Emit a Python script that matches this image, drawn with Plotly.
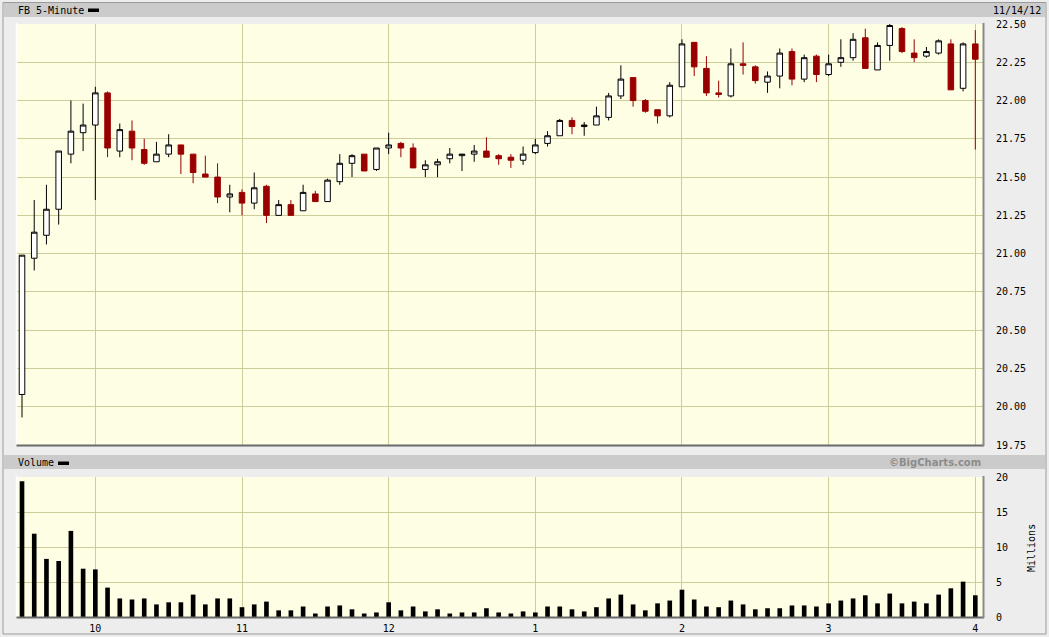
import plotly.graph_objects as go

# ---------------- data (FB 5-minute bars, 11/14/12) ----------------
bar_times = ["9:30","9:35","9:40","9:45","9:50","9:55",
             "10:00","10:05","10:10","10:15","10:20","10:25","10:30","10:35","10:40","10:45","10:50","10:55",
             "11:00","11:05","11:10","11:15","11:20","11:25","11:30","11:35","11:40","11:45","11:50","11:55",
             "12:00","12:05","12:10","12:15","12:20","12:25","12:30","12:35","12:40","12:45","12:50","12:55",
             "1:00","1:05","1:10","1:15","1:20","1:25","1:30","1:35","1:40","1:45","1:50","1:55",
             "2:00","2:05","2:10","2:15","2:20","2:25","2:30","2:35","2:40","2:45","2:50","2:55",
             "3:00","3:05","3:10","3:15","3:20","3:25","3:30","3:35","3:40","3:45","3:50","3:55",
             "4:00"]

open_ = [20.08,20.97,21.12,21.29,21.65,21.79,21.84,22.05,21.67,21.80,21.68,21.60,21.65,21.71,21.65,21.52,21.50,21.37,
         21.40,21.33,21.44,21.25,21.32,21.28,21.39,21.34,21.47,21.59,21.65,21.55,
         21.69,21.72,21.69,21.55,21.58,21.62,21.64,21.65,21.67,21.64,21.63,21.61,
         21.66,21.72,21.77,21.87,21.83,21.84,21.89,22.03,22.15,22.00,21.94,21.90,
         22.09,22.38,22.21,22.05,22.03,22.24,22.22,22.12,22.16,22.32,22.14,22.29,
         22.17,22.25,22.28,22.41,22.20,22.36,22.47,22.31,22.29,22.31,22.37,22.08,22.37]
high = [20.99,21.35,21.45,21.67,22.00,21.98,22.09,22.06,21.85,21.87,21.75,21.73,21.78,21.71,21.65,21.64,21.59,21.45,
        21.42,21.53,21.45,21.35,21.35,21.45,21.41,21.49,21.65,21.65,21.65,21.69,
        21.79,21.73,21.72,21.61,21.62,21.69,21.65,21.71,21.76,21.65,21.65,21.70,
        21.75,21.80,21.88,21.89,21.86,21.96,22.05,22.23,22.15,22.01,21.94,22.12,
        22.40,22.38,22.29,22.13,22.34,22.38,22.23,22.19,22.34,22.34,22.30,22.30,
        22.30,22.40,22.44,22.47,22.38,22.50,22.48,22.40,22.35,22.40,22.40,22.38,22.46]
low = [19.93,20.89,21.06,21.19,21.59,21.67,21.35,21.63,21.63,21.61,21.58,21.60,21.63,21.52,21.46,21.50,21.33,21.27,
       21.25,21.29,21.20,21.25,21.25,21.28,21.34,21.34,21.45,21.50,21.54,21.54,
       21.65,21.63,21.56,21.50,21.50,21.59,21.54,21.60,21.63,21.58,21.56,21.58,
       21.65,21.70,21.77,21.78,21.77,21.84,21.87,22.01,21.96,21.92,21.85,21.89,
       22.09,22.16,22.03,22.02,22.02,22.17,22.11,22.05,22.08,22.10,22.12,22.12,
       22.16,22.22,22.26,22.21,22.20,22.26,22.31,22.25,22.28,22.30,22.07,22.06,21.68]
close = [20.99,21.14,21.29,21.67,21.80,21.84,22.05,21.69,21.81,21.69,21.59,21.65,21.71,21.65,21.53,21.50,21.37,21.39,
         21.33,21.43,21.25,21.32,21.25,21.40,21.34,21.48,21.59,21.64,21.54,21.69,
         21.71,21.69,21.56,21.58,21.60,21.65,21.65,21.67,21.63,21.62,21.61,21.65,
         21.71,21.77,21.87,21.83,21.84,21.90,22.03,22.14,22.00,21.93,21.90,22.10,
         22.37,22.22,22.05,22.04,22.24,22.23,22.13,22.16,22.31,22.14,22.28,22.17,
         22.24,22.28,22.40,22.21,22.36,22.49,22.32,22.28,22.32,22.39,22.07,22.37,22.27]

volume_m = [19.4,11.9,8.3,8.0,12.3,6.9,6.8,4.2,2.65,2.5,2.65,1.8,2.1,2.1,3.2,1.8,2.65,2.65,
            1.4,1.8,2.2,0.95,0.95,1.5,0.5,1.5,1.65,1.1,0.5,0.65,
            2.1,0.95,1.5,0.8,1.1,0.5,0.65,0.65,1.25,0.65,0.5,0.8,
            0.65,1.5,1.5,1.1,0.8,1.4,2.65,3.2,1.8,0.95,1.95,2.35,
            3.9,2.5,1.5,1.4,2.35,1.8,1.1,1.25,1.25,1.65,1.65,1.5,
            1.95,2.35,2.65,3.1,1.95,3.35,1.95,2.2,1.95,3.2,4.1,5.05,3.1]

hour_labels = ["10", "11", "12", "1", "2", "3", "4"]
price_ticks = [19.75, 20.00, 20.25, 20.50, 20.75, 21.00, 21.25, 21.50, 21.75, 22.00, 22.25, 22.50]
volume_ticks = [0, 5, 10, 15, 20]

# ---------------- layout helpers ----------------
W, H = 1049, 637
PL, PR, PT, PB = 17, 983, 24, 617
def px_x(p):
    return (p - PL) / (PR - PL)
def px_y(p):
    return (PB - p) / (PB - PT)

xs = list(range(len(bar_times)))
hour_pos = [i for i, t in enumerate(bar_times) if t.endswith(":00")]

BG = "#ededed"
PLOTBG = "#fefee4"
GRID = "#cdcd9a"
RED = "#990000"
MONO = "DejaVu Sans Mono"

fig = go.Figure()
fig.add_trace(go.Candlestick(
    x=xs, open=open_, high=high, low=low, close=close,
    xaxis="x", yaxis="y",
    increasing=dict(line=dict(color="black", width=1), fillcolor="white"),
    decreasing=dict(line=dict(color=RED, width=1), fillcolor=RED),
    whiskerwidth=0, showlegend=False, hoverinfo="skip",
))
fig.add_trace(go.Bar(
    x=xs, y=volume_m, xaxis="x2", yaxis="y2",
    marker=dict(color="black", line=dict(width=0)),
    width=0.38, showlegend=False, hoverinfo="skip",
))

xr = [-0.41, len(bar_times) - 1 + 0.63]
common_x = dict(range=xr, tickmode="array", tickvals=hour_pos, showgrid=True,
                gridcolor=GRID, gridwidth=1, zeroline=False, showline=False,
                fixedrange=True, automargin=False)

shapes = []
# outer frame
shapes.append(dict(type="rect", xref="paper", yref="paper",
                   x0=px_x(3), x1=px_x(1046), y0=px_y(634), y1=px_y(2.5),
                   line=dict(color="#9a9a9a", width=1), fillcolor="rgba(0,0,0,0)", layer="below"))
# header bars
for (y0, y1) in [(3, 17), (455, 469)]:
    shapes.append(dict(type="rect", xref="paper", yref="paper",
                       x0=px_x(4), x1=px_x(1045), y0=px_y(y1), y1=px_y(y0),
                       line=dict(width=0), fillcolor="#cbcbcb", layer="below"))
# legend dashes
shapes.append(dict(type="rect", xref="paper", yref="paper",
                   x0=px_x(88), x1=px_x(99), y0=px_y(12), y1=px_y(8.5),
                   line=dict(width=0), fillcolor="black"))
shapes.append(dict(type="rect", xref="paper", yref="paper",
                   x0=px_x(58), x1=px_x(69), y0=px_y(465), y1=px_y(461.5),
                   line=dict(width=0), fillcolor="black"))
# panel bevel edges
for (top, bot) in [(24, 445), (477, 617)]:
    shapes.append(dict(type="line", xref="paper", yref="paper",
                       x0=px_x(16.5), x1=px_x(16.5), y0=px_y(bot), y1=px_y(top - 1),
                       line=dict(color="white", width=1.5)))
    shapes.append(dict(type="line", xref="paper", yref="paper",
                       x0=px_x(16.5), x1=px_x(984), y0=px_y(bot + 0.5), y1=px_y(bot + 0.5),
                       line=dict(color="#6a6a6a", width=2)))
    shapes.append(dict(type="line", xref="paper", yref="paper",
                       x0=px_x(983.5), x1=px_x(983.5), y0=px_y(bot + 1), y1=px_y(top - 1),
                       line=dict(color="#8a8a8a", width=2)))

annotations = [
    dict(text="FB 5-Minute", xref="paper", yref="paper", x=px_x(16), y=px_y(10.5),
         xanchor="left", yanchor="middle", showarrow=False,
         font=dict(family=MONO, size=10, color="black")),
    dict(text="11/14/12", xref="paper", yref="paper", x=px_x(1043), y=px_y(10.5),
         xanchor="right", yanchor="middle", showarrow=False,
         font=dict(family=MONO, size=10, color="black")),
    dict(text="Volume", xref="paper", yref="paper", x=px_x(16), y=px_y(462.5),
         xanchor="left", yanchor="middle", showarrow=False,
         font=dict(family=MONO, size=10, color="black")),
    dict(text="<b>©BigCharts.com</b>", xref="paper", yref="paper", x=px_x(983), y=px_y(462.5),
         xanchor="right", yanchor="middle", showarrow=False,
         font=dict(family="DejaVu Sans", size=10, color="#8c8c8c")),
    dict(text="Millions", xref="paper", yref="paper", x=px_x(1031), y=px_y(548),
         xanchor="center", yanchor="middle", showarrow=False, textangle=-90,
         font=dict(family=MONO, size=10, color="black")),
]

fig.update_layout(
    width=W, height=H, autosize=False,
    margin=dict(l=PL, r=W - PR, t=PT, b=H - PB, pad=0, autoexpand=False),
    paper_bgcolor=BG, plot_bgcolor=PLOTBG,
    boxgap=0.35,
    xaxis=dict(**common_x, anchor="y", domain=[0, 1], showticklabels=False,
               rangeslider=dict(visible=False), ticktext=hour_labels),
    xaxis2=dict(**common_x, anchor="y2", domain=[0, 1], matches="x",
                ticktext=hour_labels, showticklabels=True, ticks="outside",
                ticklen=2, tickcolor="rgba(0,0,0,0)",
                tickfont=dict(family=MONO, size=10, color="black")),
    yaxis=dict(domain=[px_y(445), 1], range=[19.75, 22.5], side="right",
               tickmode="array", tickvals=price_ticks,
               ticktext=[f"{v:.2f}" for v in price_ticks],
               showgrid=True, gridcolor=GRID, gridwidth=1, zeroline=False,
               showline=False, ticks="", ticklabelstandoff=12, fixedrange=True,
               automargin=False,
               tickfont=dict(family=MONO, size=10, color="black")),
    yaxis2=dict(domain=[0, px_y(477)], range=[0, 20], side="right",
                tickmode="array", tickvals=volume_ticks,
                ticktext=[str(v) for v in volume_ticks],
                showgrid=True, gridcolor=GRID, gridwidth=1, zeroline=False,
                showline=False, ticks="", ticklabelstandoff=12, fixedrange=True,
                automargin=False,
                tickfont=dict(family=MONO, size=10, color="black")),
    shapes=shapes, annotations=annotations,
    bargap=0.6, hovermode=False,
)

fig.write_html("out.html", config=dict(displayModeBar=False),
               post_script="document.body.style.margin='0';document.body.style.padding='0';document.body.style.overflow='hidden';")
